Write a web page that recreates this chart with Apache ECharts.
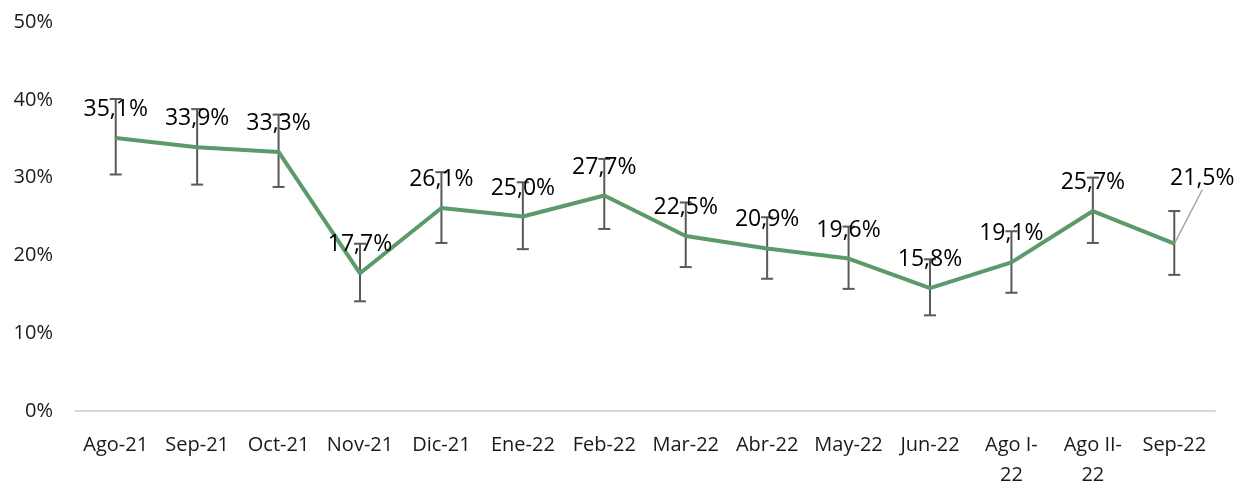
<!DOCTYPE html>
<html>
<head>
<meta charset="utf-8">
<script src="https://cdn.jsdelivr.net/npm/echarts@6/dist/echarts.min.js"></script>
<style>
html, body { margin: 0; padding: 0; background: #fff; }
#chart { width: 1235px; height: 481px; }
</style>
</head>
<body>
<div id="chart"></div>
<script>
var categories = ['Ago-21', 'Sep-21', 'Oct-21', 'Nov-21', 'Dic-21', 'Ene-22', 'Feb-22', 'Mar-22', 'Abr-22', 'May-22', 'Jun-22', 'Ago I-22', 'Ago II-22', 'Sep-22'];
var values = [35.1, 33.9, 33.3, 17.7, 26.1, 25.0, 27.7, 22.5, 20.9, 19.6, 15.8, 19.1, 25.7, 21.5];
// limites del intervalo (barras de error)
var lower = [30.4, 29.1, 28.8, 14.1, 21.6, 20.8, 23.4, 18.5, 17.0, 15.7, 12.3, 15.2, 21.6, 17.5];
var upper = [40.1, 38.8, 38.1, 21.5, 30.7, 29.4, 32.4, 26.8, 24.9, 23.7, 19.5, 23.1, 30.0, 25.7];
var yTicks = [0, 10, 20, 30, 40, 50];

var errData = categories.map(function (c, i) { return [i, lower[i], upper[i]]; });
var last = values.length - 1;
var lineData = values.map(function (v, i) {
    // solo la última etiqueta va desplazada con línea guía
    return i === last ? { value: v, labelLine: { show: true } } : v;
});

var dom = document.getElementById('chart');
var myChart = echarts.init(dom);
var font = '"Open Sans", sans-serif';

var option = {
    animation: false,
    grid: {
        left: 75,
        right: 20,
        top: 22,
        bottom: 70,
        outerBoundsMode: 'none'
    },
    xAxis: {
        type: 'category',
        data: categories,
        boundaryGap: true,
        axisLine: { lineStyle: { color: '#d9d9d9', width: 2 } },
        axisTick: { show: false },
        axisLabel: {
            color: '#1a1a1a',
            fontFamily: font,
            fontSize: 20,
            margin: 19,
            lineHeight: 30,
            interval: 0,
            formatter: function (v) {
                return v.indexOf('I-') > 0 ? v.replace('I-', 'I-\n') : v;
            }
        }
    },
    yAxis: {
        type: 'value',
        min: yTicks[0],
        max: yTicks[yTicks.length - 1],
        interval: 10,
        splitLine: { show: false },
        axisLine: { show: false },
        axisTick: { show: false },
        axisLabel: {
            color: '#1a1a1a',
            fontFamily: font,
            fontSize: 20,
            margin: 22,
            formatter: '{value}%'
        }
    },
    series: [
        {
            type: 'custom',
            z: 2,
            data: errData,
            renderItem: function (params, api) {
                var x = api.value(0);
                var lo = api.coord([x, api.value(1)]);
                var hi = api.coord([x, api.value(2)]);
                var w = 6;
                var style = { stroke: '#595959', lineWidth: 2 };
                return {
                    type: 'group',
                    children: [
                        { type: 'line', shape: { x1: lo[0], y1: lo[1], x2: hi[0], y2: hi[1] }, style: style },
                        { type: 'line', shape: { x1: lo[0] - w, y1: lo[1], x2: lo[0] + w, y2: lo[1] }, style: style },
                        { type: 'line', shape: { x1: hi[0] - w, y1: hi[1], x2: hi[0] + w, y2: hi[1] }, style: style }
                    ]
                };
            }
        },
        {
            type: 'line',
            z: 3,
            data: lineData,
            symbol: 'circle',
            symbolSize: 2,
            showSymbol: true,
            itemStyle: { color: '#5b9a6b' },
            lineStyle: { color: '#5b9a6b', width: 4 },
            label: {
                show: true,
                position: 'top',
                distance: 16,
                color: '#000',
                fontFamily: font,
                fontSize: 23,
                formatter: function (p) {
                    return p.value.toFixed(1).replace('.', ',') + '%';
                }
            },
            labelLine: {
                show: false,
                lineStyle: { color: '#a6a6a6', width: 1.5 }
            },
            labelLayout: function (p) {
                if (p.dataIndex === last) {
                    return { dx: 28, dy: -37 };
                }
                return {};
            }
        }
    ]
};
myChart.setOption(option);
</script>
</body>
</html>
